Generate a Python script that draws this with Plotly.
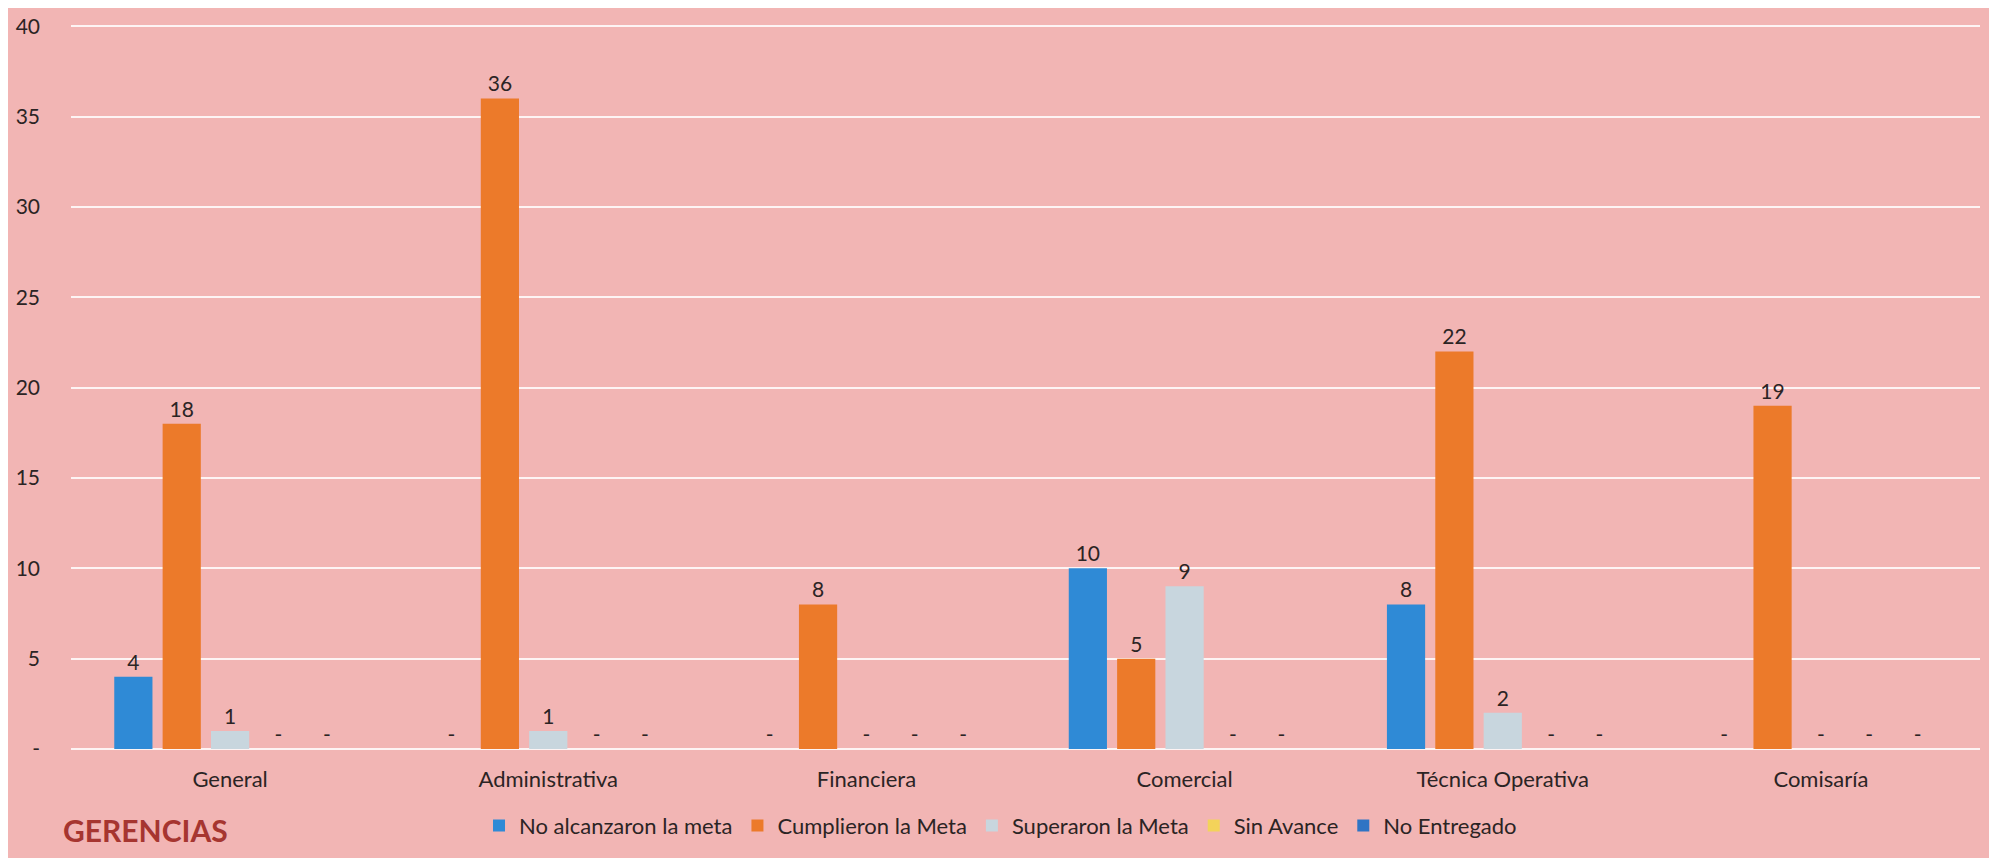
import plotly.graph_objects as go

categories = ["General", "Administrativa", "Financiera", "Comercial", "Técnica Operativa", "Comisaría"]
series_names = ["No alcanzaron la meta", "Cumplieron la Meta", "Superaron la Meta", "Sin Avance", "No Entregado"]
no_alcanzaron = [4, 0, 0, 10, 8, 0]
cumplieron = [18, 36, 8, 5, 22, 19]
superaron = [1, 1, 0, 9, 2, 0]
sin_avance = [0, 0, 0, 0, 0, 0]
no_entregado = [0, 0, 0, 0, 0, 0]
y_tick_vals = [0, 5, 10, 15, 20, 25, 30, 35, 40]
y_tick_text = ["-", "5", "10", "15", "20", "25", "30", "35", "40"]

colors = ["#2F8AD6", "#EC7A2A", "#C8D6DE", "#F3D35A", "#2F74C4"]
all_values = [no_alcanzaron, cumplieron, superaron, sin_avance, no_entregado]

FONT = "Lato"
fig = go.Figure()
for name, vals, col in zip(series_names, all_values, colors):
    fig.add_trace(go.Bar(
        name=name, x=categories, y=vals,
        marker=dict(color=col, line=dict(width=0)),
        text=[("-" if v == 0 else str(v)) for v in vals],
        textposition="outside", cliponaxis=False,
        textfont=dict(family=FONT, size=21, color="#2b2424"),
    ))

fig.update_layout(
    width=1997, height=858,
    paper_bgcolor="#F2B5B4", plot_bgcolor="#F2B5B4",
    barmode="group", bargap=0.24, bargroupgap=0.21,
    margin=dict(l=63, r=25, t=16, b=117, autoexpand=False),
    font=dict(family=FONT, color="#2b2424"),
    xaxis=dict(showgrid=False, showline=False, ticks="", zeroline=False,
               automargin=False,
               tickfont=dict(family=FONT, size=22, color="#2b2424"),
               ticklabelstandoff=15),
    yaxis=dict(range=[0, 40.12], tickvals=y_tick_vals, ticktext=y_tick_text,
               automargin=False,
               showgrid=True, gridcolor="rgba(255,255,255,0.85)", gridwidth=2,
               zeroline=True, zerolinecolor="rgba(255,255,255,0.85)", zerolinewidth=2,
               showline=False, ticks="",
               tickfont=dict(family=FONT, size=21, color="#2b2424"),
               ticklabelstandoff=30),
    legend=dict(orientation="h", xref="container", x=0.497, xanchor="center",
                yref="container", y=0.047, yanchor="middle",
                font=dict(family=FONT, size=22, color="#2b2424"),
                bgcolor="rgba(0,0,0,0)", itemclick=False),
    showlegend=True,
    annotations=[dict(text="<b>GERENCIAS</b>", xref="paper", yref="paper",
                      x=-0.005, y=-0.112, xanchor="left", yanchor="middle",
                      showarrow=False,
                      font=dict(family=FONT, size=30, color="#A63530"))],
)

fig.write_html("out.html")
